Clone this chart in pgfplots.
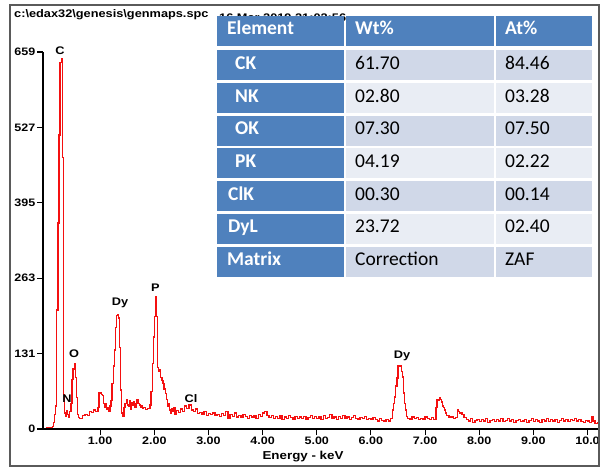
\documentclass[border=0pt]{standalone}
\usepackage{fontspec}
\usepackage{pgfplots}
\pgfplotsset{compat=1.18}
\newfontfamily\edax{Liberation Sans}[FakeStretch=1.16]
\newfontfamily\calibri{Carlito}
\definecolor{hdr}{HTML}{4F81BD}
\definecolor{bandA}{HTML}{D0D8E8}
\definecolor{bandB}{HTML}{E9EDF4}
\definecolor{spec}{HTML}{F41010}
\definecolor{framec}{HTML}{5A5A5A}
\pgfplotstableread{
e c
0.00 2
0.04 3
0.08 3
0.12 4
0.14 12
0.16 25
0.18 40
0.20 208
0.22 360
0.24 514
0.26 640
0.28 648
0.30 475
0.32 60
0.34 28
0.36 22
0.38 32
0.40 26
0.42 20
0.44 30
0.46 45
0.48 86
0.50 105
0.52 114
0.54 90
0.56 55
0.58 25
0.60 20
0.62 18
0.64 19
0.68 24
0.72 26
0.76 24
0.80 30
0.84 29
0.88 33
0.92 31
0.96 38
0.98 63
1.02 60
1.04 58
1.06 45
1.08 38
1.10 44
1.12 34
1.14 38
1.16 30
1.18 40
1.20 50
1.22 80
1.24 110
1.26 138
1.28 178
1.30 199
1.32 200
1.34 194
1.36 143
1.38 68
1.40 28
1.42 22
1.44 38
1.46 45
1.48 51
1.50 42
1.52 40
1.54 50
1.56 35
1.58 46
1.60 42
1.62 48
1.64 38
1.66 44
1.68 51
1.70 45
1.72 42
1.74 38
1.76 40
1.78 36
1.80 38
1.84 34
1.88 36
1.92 42
1.94 65
1.96 115
1.98 161
2.00 196
2.02 231
2.04 196
2.06 108
2.08 100
2.10 103
2.12 90
2.14 85
2.16 80
2.18 70
2.20 62
2.22 52
2.24 40
2.26 45
2.28 33
2.30 28
2.32 36
2.34 30
2.36 38
2.38 26
2.40 32
2.44 29
2.48 35
2.52 30
2.56 40
2.60 36
2.64 42
2.68 33
2.72 30
2.76 35
2.80 27
2.84 29
2.88 26
2.92 30
2.96 24
3.00 27
3.04 25
3.08 28
3.12 23
3.16 26
3.20 22
3.24 27
3.28 24
3.32 30
3.36 18
3.40 25
3.44 22
3.48 28
3.52 21
3.56 24
3.60 20
3.64 26
3.68 22
3.72 19
3.76 24
3.80 21
3.84 23
3.88 19
3.92 25
3.96 22
4.00 28
4.04 31
4.08 24
4.12 20
4.16 23
4.20 18
4.24 22
4.28 19
4.32 24
4.36 16
4.40 21
4.44 18
4.48 23
4.52 20
4.56 17
4.60 22
4.64 19
4.68 21
4.72 18
4.76 22
4.80 17
4.84 20
4.88 24
4.92 19
4.96 22
5.00 18
5.04 21
5.08 17
5.12 23
5.16 19
5.20 20
5.24 25
5.28 18
5.32 21
5.36 17
5.40 22
5.44 19
5.48 24
5.52 18
5.56 21
5.60 17
5.64 20
5.68 23
5.72 18
5.76 16
5.80 20
5.84 18
5.88 22
5.92 17
5.96 19
6.00 16
6.04 20
6.08 17
6.12 14
6.16 18
6.20 15
6.24 13
6.28 16
6.32 14
6.36 18
6.40 33
6.42 45
6.44 56
6.46 75
6.48 89
6.50 110
6.52 111
6.54 110
6.56 100
6.58 91
6.60 63
6.62 45
6.64 33
6.66 22
6.68 19
6.72 17
6.76 21
6.80 18
6.84 20
6.88 16
6.92 19
6.96 17
7.00 21
7.04 18
7.08 16
7.12 20
7.16 17
7.20 38
7.22 51
7.24 50
7.26 54
7.28 52
7.30 47
7.32 40
7.34 38
7.36 33
7.38 28
7.40 24
7.44 20
7.48 21
7.52 18
7.56 20
7.60 33
7.62 30
7.64 28
7.68 26
7.72 20
7.76 16
7.80 14
7.84 18
7.88 12
7.92 15
7.96 17
8.00 13
8.04 16
8.08 14
8.12 18
8.16 12
8.20 15
8.24 17
8.28 13
8.32 16
8.36 14
8.40 19
8.44 13
8.48 15
8.52 18
8.56 14
8.60 16
8.64 12
8.68 15
8.72 17
8.76 13
8.80 14
8.84 16
8.88 12
8.92 15
8.96 18
9.00 13
9.04 16
9.08 14
9.12 12
9.16 17
9.20 14
9.24 19
9.28 13
9.32 16
9.36 14
9.40 17
9.44 12
9.48 15
9.52 18
9.56 14
9.60 16
9.64 13
9.68 17
9.72 15
9.76 19
9.80 14
9.84 16
9.88 13
9.92 12
9.96 15
10.00 14
10.04 11
10.08 22
10.10 14
10.14 10
10.18 12
10.21 12
}\spectrum
\begin{document}
\begin{tikzpicture}[x=1pt,y=1pt]
\useasboundingbox (0,0) rectangle (601,468);
\fill[white] (0,0) rectangle (601,468);
\begin{axis}[
  at={(43pt,39pt)}, anchor=south west,
  x=54.15pt, y=0.57208pt,
  xmin=-0.0554, xmax=10.19, ymin=0, ymax=659,
  axis x line*=bottom, axis y line*=left,
  axis line style={-, line width=1.4pt, black},
  tick align=outside, major tick length=6pt,
  tick style={line width=1.1pt, black},
  xtick={1,2,3,4,5,6,7,8,9,10},
  xticklabels={1.00,2.00,3.00,4.00,5.00,6.00,7.00,8.00,9.00,10.0},
  ytick={0,131.8,263.6,395.4,527.2,659},
  yticklabels={0,131,263,395,527,659},
  ticklabel style={font=\edax\bfseries\fontsize{10.8}{12}\selectfont},
  yticklabel style={inner sep=1.5pt},
  xticklabel style={inner sep=1.5pt},
]
\addplot[const plot, spec, line width=1.25pt] table[x=e,y=c] {\spectrum};
\end{axis}
% frame
\draw[framec, line width=1.5pt] (10,2) rectangle (599,463);
% labels
\begin{scope}[every node/.style={inner sep=0, font=\edax\bfseries\fontsize{11}{12}\selectfont}]
\node at (60,417) {C};
\node at (74,114) {O};
\node at (67,69) {N};
\node at (120,165) {Dy};
\node at (155.5,180) {P};
\node at (191,69) {Cl};
\node at (402,112) {Dy};
\node at (303,11) {\fontsize{11.5}{13}\selectfont Energy - keV};
\node[anchor=west] at (14,453) {\fontsize{11}{13}\selectfont c:\textbackslash edax32\textbackslash genesis\textbackslash genmaps.spc};
\node[anchor=west] at (219,450) {\fontsize{11}{13}\selectfont 16 Mar 2019 21:02:56};
\end{scope}
% table
\fill[hdr] (217,452) rectangle (344,422);
\fill[hdr] (346,452) rectangle (494,422);
\fill[hdr] (496,452) rectangle (592,422);
\begin{scope}[every node/.style={anchor=base west, inner sep=0, font=\calibri\fontsize{19.5}{22}\selectfont}]
\node[text=white, font=\calibri\bfseries\fontsize{19.5}{22}\selectfont] at (227,433) {Element};
\node[text=white, font=\calibri\bfseries\fontsize{19.5}{22}\selectfont] at (355,433) {Wt\%};
\node[text=white, font=\calibri\bfseries\fontsize{19.5}{22}\selectfont] at (505,433) {At\%};
\foreach \i/\xx/\a/\b/\c/\band in {0/235/CK/61.70/84.46/bandA, 1/235/NK/02.80/03.28/bandB, 2/235/OK/07.30/07.50/bandA, 3/235/PK/04.19/02.22/bandB, 4/228/ClK/00.30/00.14/bandA, 5/228/DyL/23.72/02.40/bandB, 6/227/Matrix/Correction/ZAF/bandA}{
  \pgfmathsetmacro\tp{468-50.4-32.7*\i}
  \fill[hdr] (217,\tp) rectangle (344,\tp-30);
  \fill[\band] (346,\tp) rectangle (494,\tp-30);
  \fill[\band] (496,\tp) rectangle (592,\tp-30);
  \node[text=white, font=\calibri\bfseries\fontsize{19.5}{22}\selectfont] at (\xx,\tp-19) {\a};
  \node[text=black] at (355,\tp-19) {\b};
  \node[text=black] at (505,\tp-19) {\c};
}
\end{scope}
\end{tikzpicture}
\end{document}
